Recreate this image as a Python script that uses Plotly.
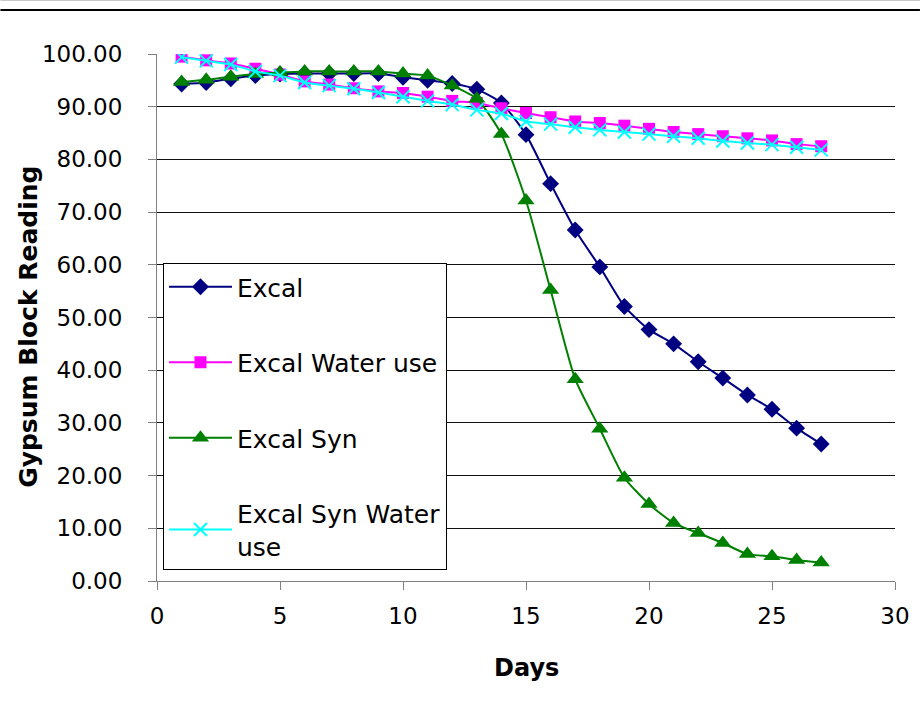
import plotly.graph_objects as go

# Gypsum block readings per day for the four treatments
days = list(range(1, 28))

excal = [94.3, 94.6, 95.3, 95.9, 96.2, 96.3, 96.3, 96.3, 96.3, 95.6, 95.0, 94.4, 93.3,
         90.7, 84.7, 75.4, 66.6, 59.6, 52.1, 47.7, 45.0, 41.6, 38.5, 35.3, 32.6, 29.0, 26.0]

excal_water_use = [99.5, 98.8, 98.2, 97.2, 96.1, 94.8, 94.2, 93.5, 92.9, 92.6, 91.9, 91.1, 90.7,
                   89.7, 88.8, 88.0, 87.2, 86.9, 86.4, 85.8, 85.2, 84.8, 84.4, 84.0, 83.6, 82.9, 82.5]

excal_syn = [94.7, 95.1, 95.7, 96.2, 96.5, 96.7, 96.7, 96.7, 96.7, 96.3, 95.9, 94.0, 91.5,
             84.8, 72.2, 55.2, 38.3, 28.9, 19.6, 14.6, 11.0, 9.1, 7.2, 5.1, 4.7, 4.0, 3.5]

excal_syn_water_use = [99.4, 98.7, 98.0, 96.7, 95.9, 94.6, 94.0, 93.4, 92.7, 91.9, 91.1, 90.4, 89.4,
                       88.7, 87.2, 86.7, 86.1, 85.6, 85.2, 84.8, 84.4, 84.0, 83.5, 83.1, 82.8, 82.3, 81.8]

y_ticks = [0, 10, 20, 30, 40, 50, 60, 70, 80, 90, 100]
x_ticks = [0, 5, 10, 15, 20, 25, 30]

FONT = "DejaVu Sans, Arial, sans-serif"

series = [
    ("Excal", excal, "#000080", dict(symbol="diamond", size=13, color="#000080")),
    ("Excal Water use", excal_water_use, "#FF00FF", dict(symbol="square", size=12, color="#FF00FF")),
    ("Excal Syn", excal_syn, "#008000", dict(symbol="triangle-up", size=15, color="#008000")),
    ("Excal Syn Water<br>use", excal_syn_water_use, "#00FFFF",
     dict(symbol="x-thin", size=13, color="#00FFFF", line=dict(color="#00FFFF", width=2))),
]

fig = go.Figure()
for i, (name, vals, color, marker) in enumerate(series):
    fig.add_trace(go.Scatter(
        x=days, y=vals, name=name, mode="lines+markers",
        line=dict(color=color, width=2, shape="spline", smoothing=0.6),
        marker=marker, legendgroup=f"g{i}",
    ))

W, H = 922, 708
L, R, T, B = 157, 25, 54, 127
pw, ph = W - L - R, H - T - B

fig.update_layout(
    width=W, height=H,
    margin=dict(l=L, r=R, t=T, b=B),
    paper_bgcolor="white", plot_bgcolor="white",
    font=dict(family=FONT, size=23, color="black"),
    showlegend=True,
    legend=dict(
        x=(163 - L) / pw, y=(H - B - 263) / ph, xanchor="left", yanchor="top",
        bgcolor="white", bordercolor="black", borderwidth=1,
        font=dict(family=FONT, size=25, color="black"),
        tracegroupgap=40, itemwidth=63,
    ),
    xaxis=dict(
        range=[0, 30], tickvals=x_ticks, ticktext=[str(v) for v in x_ticks],
        showgrid=False, zeroline=False,
        showline=True, linecolor="#808080", linewidth=1,
        ticks="outside", ticklen=8, tickcolor="#808080", tickwidth=1,
        ticklabelstandoff=6,
        tickfont=dict(family=FONT, size=23, color="black"),
    ),
    yaxis=dict(
        range=[0, 100], tickvals=y_ticks, ticktext=[f"{v:.2f}" for v in y_ticks],
        showgrid=True, gridcolor="#111111", gridwidth=1, zeroline=False,
        showline=True, linecolor="#808080", linewidth=1,
        ticks="outside", ticklen=8, tickcolor="#808080", tickwidth=1,
        ticklabelstandoff=21,
        tickfont=dict(family=FONT, size=23, color="black"),
    ),
    annotations=[
        dict(text="<b>Days</b>", xref="paper", yref="paper",
             x=0.5, y=(H - B - 668) / ph, xanchor="center", yanchor="middle",
             showarrow=False, font=dict(family=FONT, size=24, color="black")),
        dict(text="<b>Gypsum Block Reading</b>", xref="paper", yref="paper",
             x=(27.5 - L) / pw, y=(H - B - 327) / ph, xanchor="center", yanchor="middle",
             textangle=-90, showarrow=False, font=dict(family=FONT, size=25, color="black")),
    ],
    shapes=[
        dict(type="line", xref="paper", yref="paper",
             x0=-L / pw, x1=(W - L) / pw, y0=(H - B - 10) / ph, y1=(H - B - 10) / ph,
             line=dict(color="black", width=2)),
        dict(type="line", xref="paper", yref="paper",
             x0=-L / pw, x1=(W - L) / pw, y0=(H - B - 0.5) / ph, y1=(H - B - 0.5) / ph,
             line=dict(color="#c8c8c8", width=1)),
    ],
)

fig.write_html("out.html")
